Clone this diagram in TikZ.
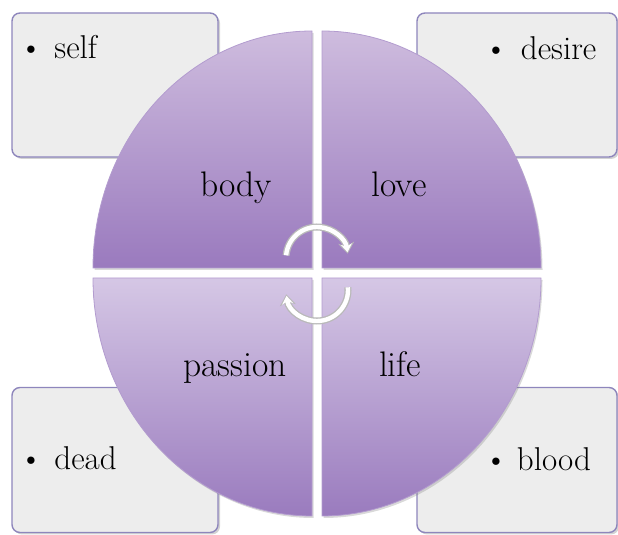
\documentclass[tikz,border=0pt]{standalone}
\usetikzlibrary{arrows.meta,shadows,calc}

\definecolor{boxfill}{HTML}{EDEDED}
\definecolor{boxline}{HTML}{8E86BC}
\definecolor{uptop}{HTML}{CEBCDE}
\definecolor{upbot}{HTML}{9A7ABE}
\definecolor{lowtop}{HTML}{D5C7E5}
\definecolor{lowbot}{HTML}{9A7BBE}
\definecolor{quadedge}{HTML}{B39CCF}

\begin{document}
\begin{tikzpicture}[x=1pt, y=1pt,
  itembox/.style={draw=boxline, line width=1.4pt, fill=boxfill, rounded corners=8pt,
              drop shadow={opacity=0.35, shadow xshift=2pt, shadow yshift=-2pt}},
  quad/.style={draw=quadedge, line width=0.8pt,
              drop shadow={opacity=0.3, shadow xshift=1.5pt, shadow yshift=-2pt}},
  word/.style={font=\fontsize{35.5}{40}\selectfont, anchor=base},
  item/.style={font=\fontsize{33}{38}\selectfont, anchor=base west, inner sep=0pt},
  ring/.style={line width=7pt, draw=gray!55, -{Stealth[length=11pt,width=16pt]}},
  ringin/.style={line width=4.4pt, draw=white, shorten >=1.6pt, -{Stealth[length=8pt,width=11pt]}},
]
\useasboundingbox (0,0) rectangle (618,535);

% --- Corner boxes ---
\node[itembox, minimum width=206pt, minimum height=144pt] (selfbox) at (115,450) {};
\node[itembox, minimum width=200pt, minimum height=144pt] (desirebox) at (517,450) {};
\node[itembox, minimum width=206pt, minimum height=145pt] (deadbox) at (115,75) {};
\node[itembox, minimum width=200pt, minimum height=145pt] (bloodbox) at (517,75) {};

\node[item] (self) at (19,476) {\textbullet\hspace{11.5pt}self};
\node[item] (desire) at (484,475) {\textbullet\hspace{13pt}desire};
\node[item] (dead) at (19,65) {\textbullet\hspace{11.5pt}dead};
\node[item] (blood) at (484,64) {\textbullet\hspace{9pt}blood};

% --- Quadrants ---
\path[quad, top color=uptop, bottom color=upbot]
  (312,267) -- (93,267) arc[start angle=180, end angle=90, x radius=219, y radius=237] -- cycle;
\path[quad, top color=uptop, bottom color=upbot]
  (322,267) -- (322,504) arc[start angle=90, end angle=0, x radius=219, y radius=237] -- cycle;
\path[quad, top color=lowtop, bottom color=lowbot]
  (312,257) -- (93,257) arc[start angle=180, end angle=270, x radius=219, y radius=238] -- cycle;
\path[quad, top color=lowtop, bottom color=lowbot]
  (322,257) -- (541,257) arc[start angle=0, end angle=-90, x radius=219, y radius=238] -- cycle;

\node[word] (body) at (236,338) {body};
\node[word] (love) at (399,338) {love};
\node[word] (passion) at (235,158) {passion};
\node[word] (life) at (400,158) {life};

% --- Centre arrows ---
\coordinate (upc) at (317,277);
\coordinate (lowc) at (317,245);
\draw[ring] ($(upc)+(175:31)$) arc[start angle=175, end angle=8, radius=31];
\draw[ringin] ($(upc)+(175:31)$) arc[start angle=175, end angle=8, radius=31];
\draw[ring] ($(lowc)+(5:31)$) arc[start angle=5, end angle=-172, radius=31];
\draw[ringin] ($(lowc)+(5:31)$) arc[start angle=5, end angle=-172, radius=31];
\end{tikzpicture}
\end{document}
